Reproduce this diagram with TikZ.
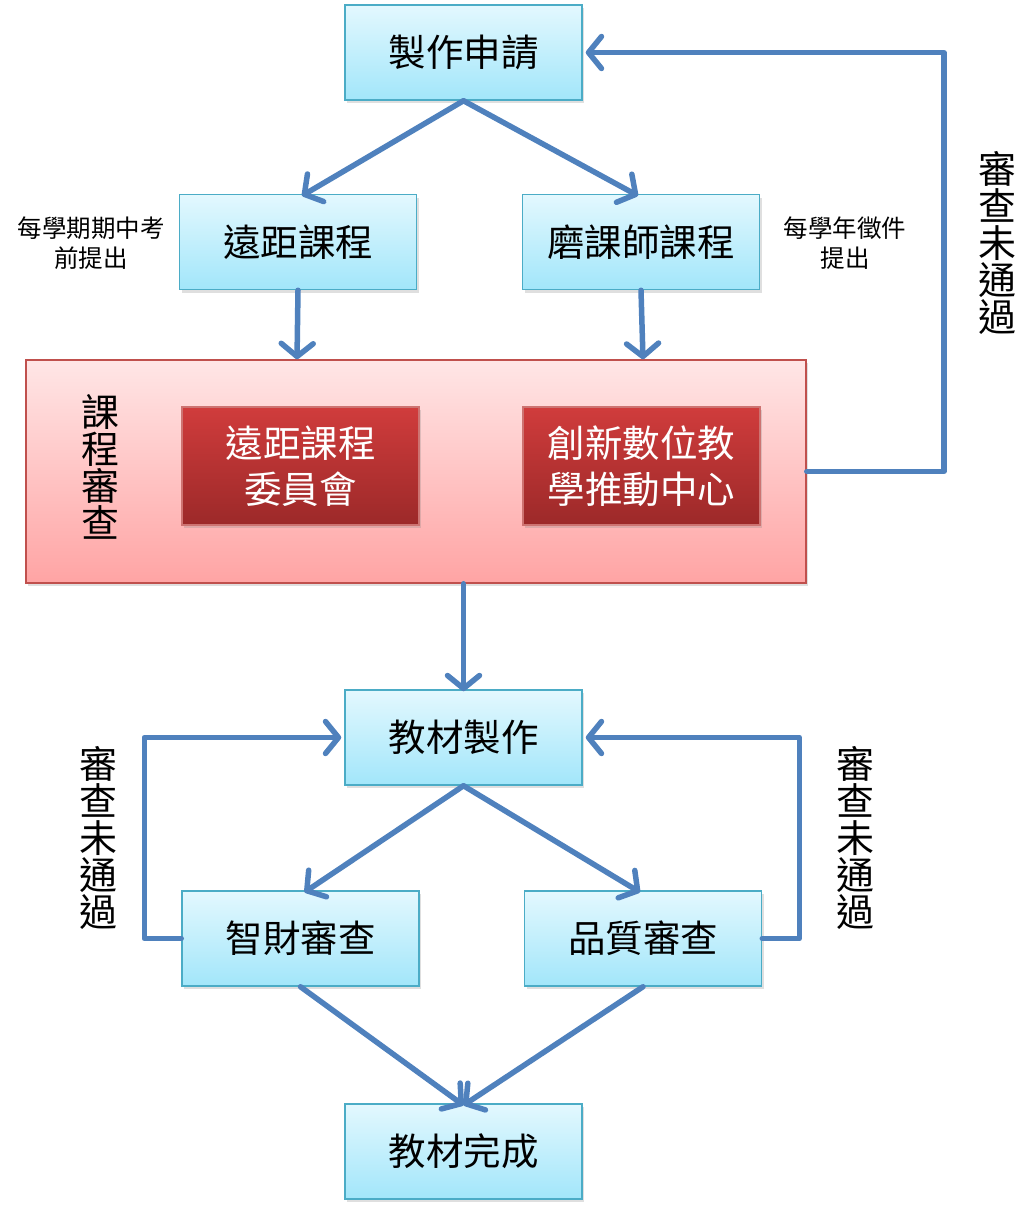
\documentclass[tikz,border=0pt]{standalone}
\usepackage{fontspec}
\setmainfont{Noto Sans CJK TC}
\usetikzlibrary{arrows.meta,shadows}
\definecolor{arrowblue}{HTML}{4F81BD}
\definecolor{boxborder}{HTML}{4BACC6}
\definecolor{boxtop}{HTML}{E3F8FE}
\definecolor{boxbot}{HTML}{A2E6FA}
\definecolor{redtop}{HTML}{D03C3C}
\definecolor{redbot}{HTML}{9C2929}
\definecolor{redborder}{HTML}{C0504D}
\definecolor{pinktop}{HTML}{FFE6E6}
\definecolor{pinkbot}{HTML}{FFA4A4}
\tikzset{
  bluebox/.style={draw=boxborder, line width=1.5pt, top color=boxtop, bottom color=boxbot,
    minimum width=237pt, minimum height=95pt, inner sep=0pt,
    font=\fontsize{37.5}{42}\selectfont,
    drop shadow={shadow xshift=2pt, shadow yshift=-3pt, opacity=0.25}},
  redbox/.style={draw=redborder!80!white, line width=1.2pt, top color=redtop, bottom color=redbot,
    minimum width=237pt, minimum height=118pt, inner sep=0pt, text=white, align=center,
    font=\fontsize{37.5}{46}\selectfont,
    drop shadow={shadow xshift=2pt, shadow yshift=-3pt, opacity=0.25}},
  pinkbox/.style={draw=redborder, line width=1.5pt, top color=pinktop, bottom color=pinkbot,
    minimum width=780pt, minimum height=223pt, inner sep=0pt,
    drop shadow={shadow xshift=2pt, shadow yshift=-3pt, opacity=0.25}},
  vtext/.style={align=center, font=\fontsize{38}{37}\selectfont, inner sep=0pt},
  smalltext/.style={align=center, font=\fontsize{24.5}{30}\selectfont, inner sep=0pt},
  flow/.style={draw=arrowblue, line width=5.5pt, line cap=round, line join=round,
    -{Straight Barb[length=13pt,width=32pt,round]}},
}
\begin{document}
\begin{tikzpicture}[x=1pt,y=-1pt]
\useasboundingbox (0,0) rectangle (1033,1210);
% pink review box
\node[pinkbox] (review) at (416,471.5) {};
\node[vtext] (reviewlbl) at (100,467) {課\\程\\審\\查};
% nodes
\node[bluebox] (req) at (463.5,52.5) {製作申請};
\node[bluebox] (dist) at (298,242) {遠距課程};
\node[bluebox] (mooc) at (641,242) {磨課師課程};
\node[redbox] (comm) at (300.5,466) {遠距課程\\委員會};
\node[redbox] (center) at (641.5,466) {創新數位教\\學推動中心};
\node[bluebox] (make) at (463.5,737.5) {教材製作};
\node[bluebox] (ip) at (300.5,938.5) {智財審查};
\node[bluebox] (qa) at (643,938.5) {品質審查};
\node[bluebox] (done) at (463.5,1151.5) {教材完成};
% labels
\node[smalltext] (lblA) at (91,243) {每學期期中考\\前提出};
\node[smalltext] (lblB) at (845,243) {每學年徵件\\提出};
\node[vtext] (failTop) at (997,243) {審\\查\\未\\通\\過};
\node[vtext] (failL) at (98,838) {審\\查\\未\\通\\過};
\node[vtext] (failR) at (855,838) {審\\查\\未\\通\\過};
% connectors
\draw[flow] (req.south) -- ([xshift=4pt,yshift=-2pt]dist.north);
\draw[flow] (req.south) -- ([xshift=-3pt,yshift=-2pt]mooc.north);
\draw[flow] (dist.south) -- ([xshift=-1pt]dist.south |- review.north);
\draw[flow] (mooc.south) -- ([xshift=2pt]mooc.south |- review.north);
\draw[flow] (review.east) -- ++(137,0) |- ([xshift=3pt]req.east);
\draw[flow] (make.north |- review.south) -- ([yshift=-2pt]make.north);
\draw[flow] (make.south) -- ([xshift=4pt,yshift=-2pt]ip.north);
\draw[flow] (make.south) -- ([xshift=-3pt,yshift=-2pt]qa.north);
\draw[flow] (ip.west) -- ++(-37,0) |- ([xshift=-3pt]make.west);
\draw[flow] (qa.east) -- ++(37,0) |- ([xshift=3pt]make.east);
\draw[flow] (ip.south) -- ([yshift=-2pt]done.north);
\draw[flow] (qa.south) -- ([yshift=-2pt]done.north);
\end{tikzpicture}
\end{document}
